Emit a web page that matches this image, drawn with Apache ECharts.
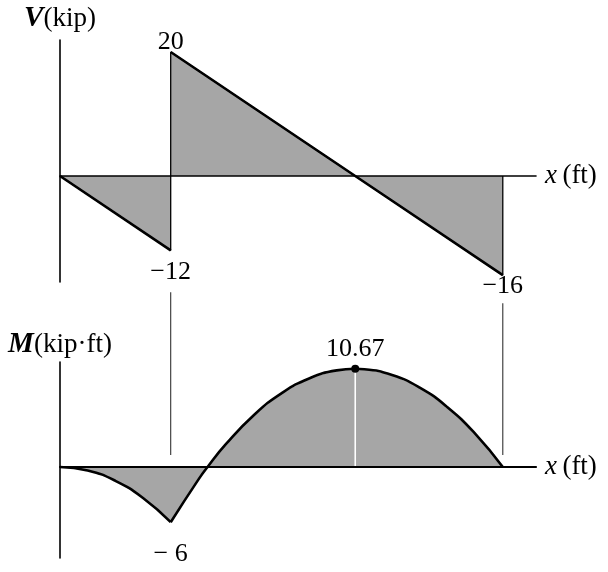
<!DOCTYPE html>
<html>
<head>
<meta charset="utf-8">
<script src="https://cdn.jsdelivr.net/npm/echarts@6/dist/echarts.min.js"></script>
<style>
  html, body { margin: 0; background: #fff; }
  #chart { width: 608px; height: 572px; }
</style>
</head>
<body>
<div id="chart"></div>
<script>
// shear diagram, V (kip) against x (ft)
var shearX = [0, 1, 1, 2.667, 4, 4];
var shearV = [0, -12, 20, 0, -16, 0];

// moment diagram, M (kip·ft)
var momentLeftX = [0, 0.25, 0.5, 0.75, 1];
var momentLeftM = [0, -0.375, -1.5, -3.375, -6];
var momentRightX = [1, 1.25, 1.333, 1.5, 1.75, 2, 2.25, 2.5, 2.667, 2.75, 3, 3.25, 3.5, 3.75, 4];
var momentRightM = [-6, -1.375, 0, 2.5, 5.625, 8, 9.625, 10.5, 10.67, 10.625, 10, 8.625, 6.5, 3.625, 0];

// value labels
var shearLabelX = [1, 1, 4];
var shearLabelV = [20, -12, -16];
var shearLabelText = ["20", "\u221212", "\u221216"];
var momentLabelX = [1, 2.667];
var momentLabelM = [-6, 10.67];
var momentLabelText = ["\u2212 6", "10.67"];

// thin guide lines joining the two diagrams
var guideX = [1, 4];
var guideTop = [19.0, 17.8];
var guideBottom = [1.3, 1.3];

var font = "Liberation Serif";
var ink = "#000";
var fill = "#a6a6a6";

function pts(xs, ys, from, to) {
  var out = [];
  for (var i = from; i <= to; i++) out.push([xs[i], ys[i]]);
  return out;
}

var labelPos = [
  { position: "top", distance: -3 },
  { position: "bottom", distance: 9 },
  { position: "bottom", distance: -2 }
];
var momentLabelPos = [
  { position: "bottom", distance: 19 },
  { position: "top", distance: 3 }
];

function valueLabel(text, pos) {
  return {
    show: true, formatter: text,
    position: pos.position, distance: pos.distance,
    fontFamily: font, fontSize: 26, color: ink, opacity: 1,
    textBorderWidth: 0, textShadowBlur: 0
  };
}

var momentAll = pts(momentLeftX, momentLeftM, 0, momentLeftX.length - 1)
  .concat(pts(momentRightX, momentRightM, 1, momentRightX.length - 1));

var chart = echarts.init(document.getElementById("chart"));

var series = [
  {
    // shaded shear area
    type: "line", xAxisIndex: 0, yAxisIndex: 0,
    data: pts(shearX, shearV, 0, shearX.length - 1),
    symbol: "none", lineStyle: { width: 1.3, color: ink },
    areaStyle: { color: fill, opacity: 1, origin: 0 },
    z: 2
  },
  {
    type: "line", xAxisIndex: 0, yAxisIndex: 0,
    data: pts(shearX, shearV, 0, 1),
    symbol: "none", lineStyle: { width: 2.6, color: ink }, z: 4
  },
  {
    type: "line", xAxisIndex: 0, yAxisIndex: 0,
    data: pts(shearX, shearV, 2, 4),
    symbol: "none", lineStyle: { width: 2.6, color: ink }, z: 4
  },
  {
    type: "scatter", xAxisIndex: 0, yAxisIndex: 0,
    symbolSize: 0,
    data: shearLabelX.map(function (x, i) {
      return { value: [x, shearLabelV[i]], label: valueLabel(shearLabelText[i], labelPos[i]) };
    }),
    z: 6
  },
  {
    // shaded moment area, one piece so there is no seam at the cusp
    type: "line", xAxisIndex: 1, yAxisIndex: 1,
    data: momentAll,
    symbol: "none", lineStyle: { width: 0 },
    areaStyle: { color: fill, opacity: 1, origin: 0 },
    z: 2
  },
  {
    type: "line", xAxisIndex: 1, yAxisIndex: 1,
    data: pts(momentLeftX, momentLeftM, 0, momentLeftX.length - 1),
    smooth: 0.5, symbol: "none",
    lineStyle: { width: 2.6, color: ink }, z: 4
  },
  {
    type: "line", xAxisIndex: 1, yAxisIndex: 1,
    data: pts(momentRightX, momentRightM, 0, momentRightX.length - 1),
    smooth: 0.5, symbol: "none",
    lineStyle: { width: 2.6, color: ink }, z: 4
  },
  {
    // white drop line under the peak
    type: "line", xAxisIndex: 1, yAxisIndex: 1,
    data: [[momentLabelX[1], 0], [momentLabelX[1], momentLabelM[1]]],
    symbol: "none", lineStyle: { width: 1.6, color: "#fff" }, z: 3
  },
  {
    type: "scatter", xAxisIndex: 1, yAxisIndex: 1,
    data: momentLabelX.map(function (x, i) {
      return {
        value: [x, momentLabelM[i]],
        symbolSize: i === 1 ? 8 : 0,
        label: valueLabel(momentLabelText[i], momentLabelPos[i])
      };
    }),
    itemStyle: { color: ink, opacity: 1 },
    z: 6
  }
];

guideX.forEach(function (x, i) {
  series.push({
    type: "line", xAxisIndex: 1, yAxisIndex: 1,
    data: [[x, guideBottom[i]], [x, guideTop[i]]],
    symbol: "none", clip: false,
    lineStyle: { width: 1.1, color: "#333" }, z: 1
  });
});

function xAxisOpt(idx) {
  return {
    type: "value", gridIndex: idx, min: 0, max: 4.3,
    axisLine: { show: true, onZero: true, lineStyle: { color: ink, width: idx ? 2.2 : 1.6 } },
    axisTick: { show: false }, axisLabel: { show: false }, splitLine: { show: false },
    name: "{i|x}\u2009(ft)", nameLocation: "end", nameGap: 9,
    nameTextStyle: {
      fontFamily: font, fontSize: 27, color: ink,
      rich: { i: { fontFamily: font, fontSize: 27, fontStyle: "italic", color: ink } }
    },
    z: 5
  };
}

function yAxisOpt(idx, min, max, name, gap) {
  return {
    type: "value", gridIndex: idx, min: min, max: max,
    axisLine: { show: true, onZero: false, lineStyle: { color: ink, width: 1.6 } },
    axisTick: { show: false }, axisLabel: { show: false }, splitLine: { show: false },
    name: name, nameLocation: "end", nameGap: gap,
    nameTextStyle: {
      fontFamily: font, fontSize: 27, color: ink,
      rich: { b: { fontFamily: font, fontSize: 29, fontStyle: "italic", fontWeight: "bold", color: ink } }
    }
  };
}

chart.setOption({
  animation: false,
  backgroundColor: "#fff",
  grid: [
    { left: 60, right: 72, top: 40, height: 242 },
    { left: 60, right: 72, top: 362, height: 196 }
  ],
  xAxis: [xAxisOpt(0), xAxisOpt(1)],
  yAxis: [
    yAxisOpt(0, -17.1, 21.94, "{b|V}(kip)", 7),
    yAxisOpt(1, -9.89, 11.41, "{b|M}(kip\u00b7ft)", 3)
  ],
  series: series
});
</script>
</body>
</html>
